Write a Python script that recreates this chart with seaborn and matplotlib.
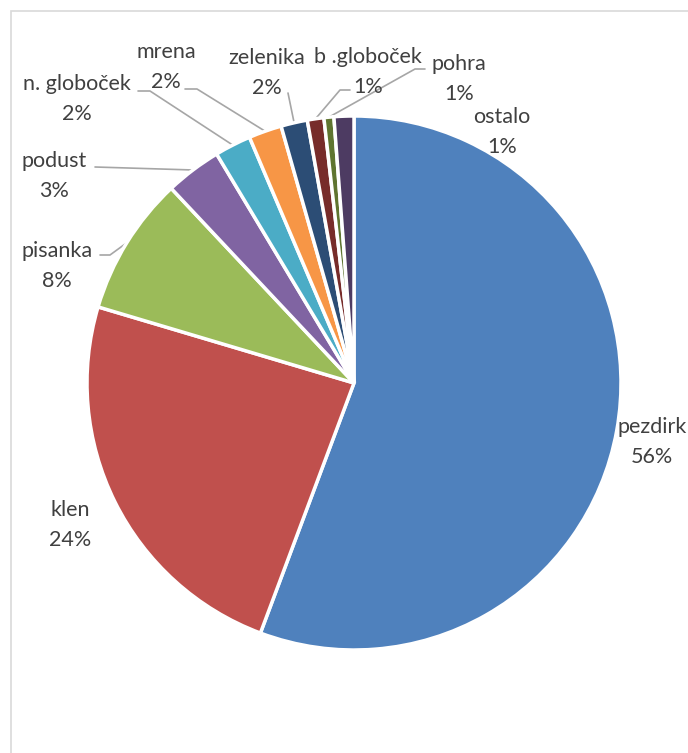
import numpy as np
import matplotlib
matplotlib.use("Agg")
import matplotlib.pyplot as plt
from matplotlib.patches import Rectangle
import seaborn as sns

sns.set_theme(style="white")
plt.rcParams["font.family"] = ["Lato", "DejaVu Sans"]

# Catch composition by species (share of total, %)
species = ["pezdirk", "klen", "pisanka", "podust", "n. globoček",
           "mrena", "zelenika", "b .globoček", "pohra", "ostalo"]
shares = [55.7, 23.9, 8.4, 3.4, 2.2, 2.0, 1.6, 1.0, 0.6, 1.2]
colors = ["#4F81BD", "#C0504D", "#9BBB59", "#8064A2", "#4BACC6",
          "#F79646", "#2C4D75", "#772C2A", "#5F7530", "#4D3B62"]

W, H = 688, 753
fig = plt.figure(figsize=(W / 100, H / 100), dpi=100)
ax = fig.add_axes([0, 0, 1, 1])

cx, cy, r = 354, H - 383, 267
wedges, _ = ax.pie(shares, colors=colors, startangle=90, counterclock=False,
                   center=(cx, cy), radius=r, frame=True,
                   wedgeprops=dict(edgecolor="white", linewidth=2.5))
ax.set_xlim(0, W)
ax.set_ylim(0, H)
ax.axis("off")

# chart-area frame (only top and left edges are visible)
ax.add_patch(Rectangle((10.5, -20), 720, H - 10.5 + 20, fill=False,
                       edgecolor="#D9D9D9", linewidth=1.2, zorder=0))

# label anchors (pixel coords, y from top) and leader-line starts
label_pos = {
    "pezdirk": (652, 427),
    "klen": (70, 510),
    "pisanka": (57, 251),
    "podust": (54, 161),
    "n. globoček": (77, 84),
    "mrena": (166, 52),
    "zelenika": (267, 58),
    "b .globoček": (368, 57),
    "pohra": (459, 64),
    "ostalo": (502, 117),
}
leader_start = {
    "pisanka": [(100, 255), (110, 255)],
    "podust": [(95, 167)],
    "n. globoček": [(138, 91), (150, 91)],
    "mrena": [(185, 89), (197, 89)],
    "zelenika": [(288, 93)],
    "b .globoček": [(350, 90), (340, 90)],
    "pohra": [(425, 69), (415, 69)],
}

total = sum(shares)
for w, name, val in zip(wedges, species, shares):
    x, y = label_pos[name]
    ax.text(x, H - y, name, ha="center", va="center", fontsize=15.5,
            color="#404040")
    ax.text(x, H - y - 30, f"{round(val / total * 100):.0f}%", ha="center",
            va="center", fontsize=15.5, color="#404040")
    if name in leader_start:
        mid = np.deg2rad((w.theta1 + w.theta2) / 2)
        ex, ey = cx + r * np.cos(mid), cy + r * np.sin(mid)
        pts = [(px, H - py) for px, py in leader_start[name]] + [(ex, ey)]
        xs, ys = zip(*pts)
        ax.plot(xs, ys, color="#A6A6A6", linewidth=1.2, zorder=0.5)

fig.savefig("out.png", dpi=100)
